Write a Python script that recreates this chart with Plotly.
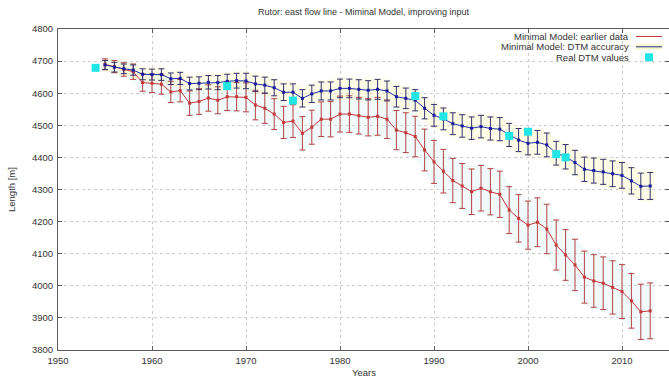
import plotly.graph_objects as go

years = list(range(1955, 2014))

earlier_data = [4690, 4683, 4674, 4667, 4633, 4631, 4628, 4604, 4608, 4569,
                4574, 4585, 4578, 4589, 4589, 4587, 4563, 4553, 4535, 4509,
                4513, 4475, 4494, 4519, 4519, 4535, 4535, 4530, 4525, 4528,
                4519, 4485, 4477, 4465, 4423, 4386, 4357, 4328, 4311, 4293,
                4304, 4293, 4285, 4236, 4210, 4189, 4198, 4177, 4127, 4096,
                4065, 4027, 4015, 4008, 3995, 3982, 3953, 3919, 3922]
earlier_err = [17, 19, 21, 24, 27, 29, 31, 33, 35, 38,
               40, 41, 42, 43, 44, 45, 46, 47, 48, 50,
               51, 52, 53, 54, 55, 56, 57, 57, 58, 59,
               60, 61, 62, 63, 65, 67, 68, 69, 70, 71,
               71, 72, 72, 73, 74, 75, 76, 77, 78, 79,
               80, 81, 82, 82, 83, 84, 85, 86, 87]

dtm_accuracy = [4688, 4681, 4676, 4672, 4659, 4658, 4658, 4645, 4646, 4630,
                4631, 4634, 4633, 4637, 4639, 4638, 4629, 4625, 4617, 4603,
                4603, 4584, 4598, 4607, 4607, 4615, 4615, 4612, 4609, 4612,
                4607, 4589, 4584, 4578, 4553, 4531, 4520, 4505, 4498, 4491,
                4496, 4490, 4488, 4470, 4454, 4444, 4447, 4439, 4413, 4402,
                4384, 4363, 4359, 4355, 4349, 4344, 4327, 4310, 4311]
dtm_err = [14, 15, 15, 16, 17, 17, 18, 18, 19, 20,
           20, 21, 22, 22, 23, 24, 24, 25, 25, 26,
           26, 27, 27, 28, 28, 29, 29, 30, 30, 31,
           31, 32, 32, 33, 33, 34, 34, 34, 35, 35,
           35, 36, 36, 36, 36, 36, 37, 37, 37, 38,
           38, 38, 39, 39, 40, 40, 41, 41, 42]

real_years = [1954, 1968, 1975, 1988, 1991, 1998, 2000, 2003, 2004]
real_values = [4679, 4622, 4577, 4591, 4528, 4467, 4480, 4410, 4400]

x_ticks = [1950, 1960, 1970, 1980, 1990, 2000, 2010]
y_ticks = [3800, 3900, 4000, 4100, 4200, 4300, 4400, 4500, 4600, 4700, 4800]

title_text = "Rutor: east flow line - Miminal Model, improving input"
legend_names = ["Minimal Model: earlier data", "Minimal Model: DTM accuracy", "Real DTM values"]

FONT = "Liberation Sans, Arial, sans-serif"
TXT = "#333333"
RED = "#c43a3a"
BLUE = "#2233a0"
CYAN = "#22e6e6"

W, H = 669, 381
ML, MR, MT, MB = 58, 0, 29, 31
PW, PH = W - ML - MR, H - MT - MB


def px(xp):
    return (xp - ML) / PW


def py(yp):
    return (H - MB - yp) / PH


def band(vals, errs, pad):
    up = [v + e + pad for v, e in zip(vals, errs)]
    lo = [v - e - pad for v, e in zip(vals, errs)]
    xs = [years[0] - 0.4] + years + [years[-1] + 0.4]
    xs_all = xs + xs[::-1]
    ys_up = [up[0]] + up + [up[-1]]
    ys_lo = [lo[0]] + lo + [lo[-1]]
    return xs_all, ys_up + ys_lo[::-1]


fig = go.Figure()

bx, by = band(earlier_data, earlier_err, 6)
fig.add_trace(go.Scatter(x=bx, y=by, fill="toself", mode="none",
                         fillcolor="rgba(215,238,242,0.35)", hoverinfo="skip",
                         showlegend=False))
bx, by = band(dtm_accuracy, dtm_err, 6)
fig.add_trace(go.Scatter(x=bx, y=by, fill="toself", mode="none",
                         fillcolor="rgba(248,246,190,0.40)", hoverinfo="skip",
                         showlegend=False))

fig.add_trace(go.Scatter(
    x=years, y=earlier_data, mode="lines+markers", name=legend_names[0],
    line=dict(color=RED, width=1),
    marker=dict(symbol="square", size=3, color=RED),
    error_y=dict(type="data", array=earlier_err, visible=True,
                 color="#b54545", thickness=1, width=3),
    showlegend=False))

fig.add_trace(go.Scatter(
    x=years, y=dtm_accuracy, mode="lines+markers", name=legend_names[1],
    line=dict(color=BLUE, width=1),
    marker=dict(symbol="square", size=3, color="#1a1a9a"),
    error_y=dict(type="data", array=dtm_err, visible=True,
                 color="#33336e", thickness=1, width=3),
    showlegend=False))

fig.add_trace(go.Scatter(
    x=real_years, y=real_values, mode="markers", name=legend_names[2],
    marker=dict(symbol="square", size=8, color=CYAN, line=dict(width=0)),
    showlegend=False))

annotations = [
    dict(text=title_text, x=0.5, y=py(12), xref="paper", yref="paper",
         showarrow=False, font=dict(family=FONT, size=9, color=TXT),
         xanchor="center", yanchor="middle"),
    dict(text="Years", x=0.5, y=py(373), xref="paper", yref="paper",
         showarrow=False, font=dict(family=FONT, size=9.5, color=TXT),
         xanchor="center", yanchor="middle"),
    dict(text="Length [m]", x=px(12), y=py(190), xref="paper", yref="paper",
         showarrow=False, textangle=-90, font=dict(family=FONT, size=9.5, color=TXT),
         xanchor="center", yanchor="middle"),
]
leg_y = [36.5, 46.8, 57.3]
for name, yy in zip(legend_names, leg_y):
    annotations.append(dict(text=name, x=px(631), y=py(yy), xref="paper", yref="paper",
                            showarrow=False, font=dict(family=FONT, size=9.5, color=TXT),
                            xanchor="right", yanchor="middle"))

shapes = [
    dict(type="line", xref="paper", yref="paper", x0=px(636), x1=px(662),
         y0=py(leg_y[0]), y1=py(leg_y[0]), line=dict(color=RED, width=1)),
    dict(type="line", xref="paper", yref="paper", x0=px(636), x1=px(662),
         y0=py(leg_y[1]), y1=py(leg_y[1]), line=dict(color="rgba(248,246,185,0.9)", width=5)),
    dict(type="line", xref="paper", yref="paper", x0=px(636), x1=px(662),
         y0=py(leg_y[1]), y1=py(leg_y[1]), line=dict(color=BLUE, width=1)),
    dict(type="rect", xref="paper", yref="paper", x0=px(645), x1=px(653),
         y0=py(leg_y[2] + 4), y1=py(leg_y[2] - 4), fillcolor=CYAN, line=dict(width=0)),
]

axis_common = dict(
    showline=True, linecolor="#5a5a5a", linewidth=1, mirror="ticks",
    ticks="inside", ticklen=4, tickcolor="#5a5a5a",
    showgrid=True, gridcolor="#cccccc", griddash="dot", gridwidth=1,
    zeroline=False,
    tickfont=dict(family=FONT, size=9.5, color=TXT),
)

fig.update_layout(
    width=W, height=H,
    margin=dict(l=ML, r=MR, t=MT, b=MB, pad=0),
    paper_bgcolor="white", plot_bgcolor="white",
    xaxis=dict(range=[1950, 2015], tickvals=x_ticks, ticklabelstandoff=2, **axis_common),
    yaxis=dict(range=[3800, 4800], tickvals=y_ticks, ticklabelstandoff=2, **axis_common),
    annotations=annotations, shapes=shapes, showlegend=False,
    hovermode=False,
)

fig.write_html("out.html", config={"displayModeBar": False, "staticPlot": True},
               post_script="document.body.style.margin='0';document.body.style.overflow='hidden';")
